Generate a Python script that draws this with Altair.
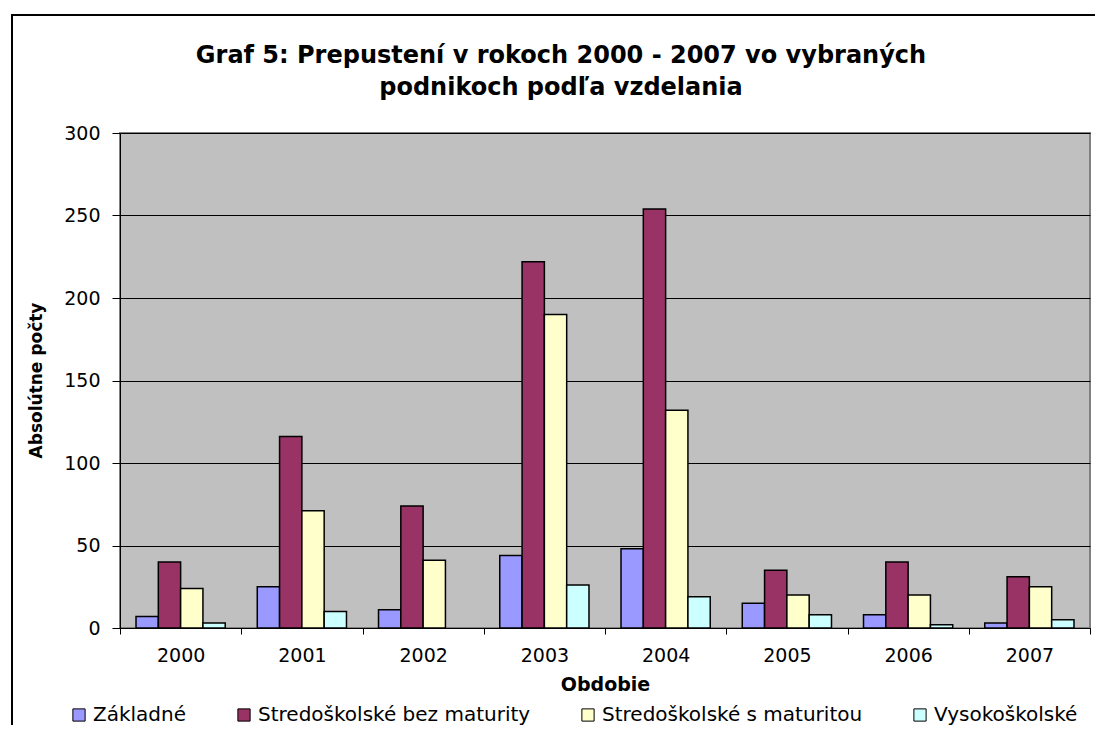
import altair as alt
import pandas as pd

years = ["2000", "2001", "2002", "2003", "2004", "2005", "2006", "2007"]
series = ["Základné", "Stredoškolské bez maturity", "Stredoškolské s maturitou", "Vysokoškolské"]
zakladne = [7, 25, 11, 44, 48, 15, 8, 3]
bez_maturity = [40, 116, 74, 222, 254, 35, 40, 31]
s_maturitou = [24, 71, 41, 190, 132, 20, 20, 25]
vysokoskolske = [3, 10, 0, 26, 19, 8, 2, 5]
colors = ["#9999FF", "#993366", "#FFFFCC", "#CCFFFF"]
y_ticks = [0, 50, 100, 150, 200, 250, 300]
title_lines = ["Graf 5: Prepustení v rokoch 2000 - 2007 vo vybraných",
               "podnikoch podľa vzdelania"]

rows = []
for s, vals in zip(series, [zakladne, bez_maturity, s_maturitou, vysokoskolske]):
    for yr, v in zip(years, vals):
        rows.append({"rok": yr, "vzdelanie": s, "pocet": v})
df = pd.DataFrame(rows)

FONT = "DejaVu Sans"

bars = alt.Chart(df).mark_bar(stroke="black", strokeWidth=1.5).encode(
    x=alt.X(
        "rok:N",
        sort=years,
        title="Obdobie",
        scale=alt.Scale(domain=years, paddingInner=0, paddingOuter=0),
        axis=alt.Axis(
            labelAngle=0,
            tickBand="extent",
            tickSize=6,
            labelPadding=12,
            labelFont=FONT,
            labelFontSize=19,
            labelColor="black",
            titleFont=FONT,
            titleFontSize=19,
            titleFontWeight="bold",
            titleColor="black",
            titleBaseline="alphabetic",
            titleY=62,
            domainColor="black",
            tickColor="black",
            grid=False,
        ),
    ),
    xOffset=alt.XOffset("vzdelanie:N", sort=series,
                        scale=alt.Scale(domain=series, paddingInner=0, paddingOuter=0.718)),
    y=alt.Y(
        "pocet:Q",
        title="Absolútne počty",
        scale=alt.Scale(domain=[0, 300], nice=False),
        axis=alt.Axis(
            values=y_ticks,
            tickSize=8,
            labelPadding=12,
            labelFont=FONT,
            labelFontSize=19,
            labelColor="black",
            titleFont=FONT,
            titleFontSize=17,
            titleFontWeight="bold",
            titleColor="black",
            titleAngle=270,
            titleBaseline="middle",
            titleX=-84,
            titleY=247,
            domainColor="black",
            tickColor="black",
            grid=True,
            gridColor="black",
            gridWidth=1,
        ),
    ),
    color=alt.Color(
        "vzdelanie:N",
        sort=series,
        scale=alt.Scale(domain=series, range=colors),
        legend=alt.Legend(
            title=None,
            orient="none",
            direction="horizontal",
            columns=4,
            legendX=-51,
            legendY=572,
            columnPadding=47,
            symbolType="square",
            symbolSize=150,
            symbolStrokeColor="black",
            symbolStrokeWidth=1,
            symbolOpacity=1,
            labelOffset=4,
            labelFont=FONT,
            labelFontSize=20,
            labelColor="black",
            labelLimit=400,
            padding=0,
        ),
    ),
).transform_filter("datum.pocet > 0")

border = alt.Chart(pd.DataFrame({"a": [0]})).mark_rect(
    fillOpacity=0, stroke="black", strokeWidth=2
).encode(
    x=alt.value(-108), x2=alt.value(1100), y=alt.value(-118), y2=alt.value(700)
)

title1 = alt.Chart(pd.DataFrame({"t": [title_lines[0]]})).mark_text(
    font=FONT, fontSize=24, fontWeight="bold", color="black",
    align="center", baseline="alphabetic"
).encode(x=alt.value(441), y=alt.value(-70), text="t:N")

title2 = alt.Chart(pd.DataFrame({"t": [title_lines[1]]})).mark_text(
    font=FONT, fontSize=24, fontWeight="bold", color="black",
    align="center", baseline="alphabetic"
).encode(x=alt.value(441), y=alt.value(-38), text="t:N")

chart = alt.layer(bars, border, title1, title2).properties(
    width=970,
    height=495,
    autosize=alt.AutoSizeParams(type="none"),
    padding={"left": 112, "top": 125, "right": 5, "bottom": 97},
    background="white",
).configure_view(
    fill="#C0C0C0", stroke="#808080", strokeWidth=2
)

chart.save("out.html", embed_options={"renderer": "svg", "actions": False})
